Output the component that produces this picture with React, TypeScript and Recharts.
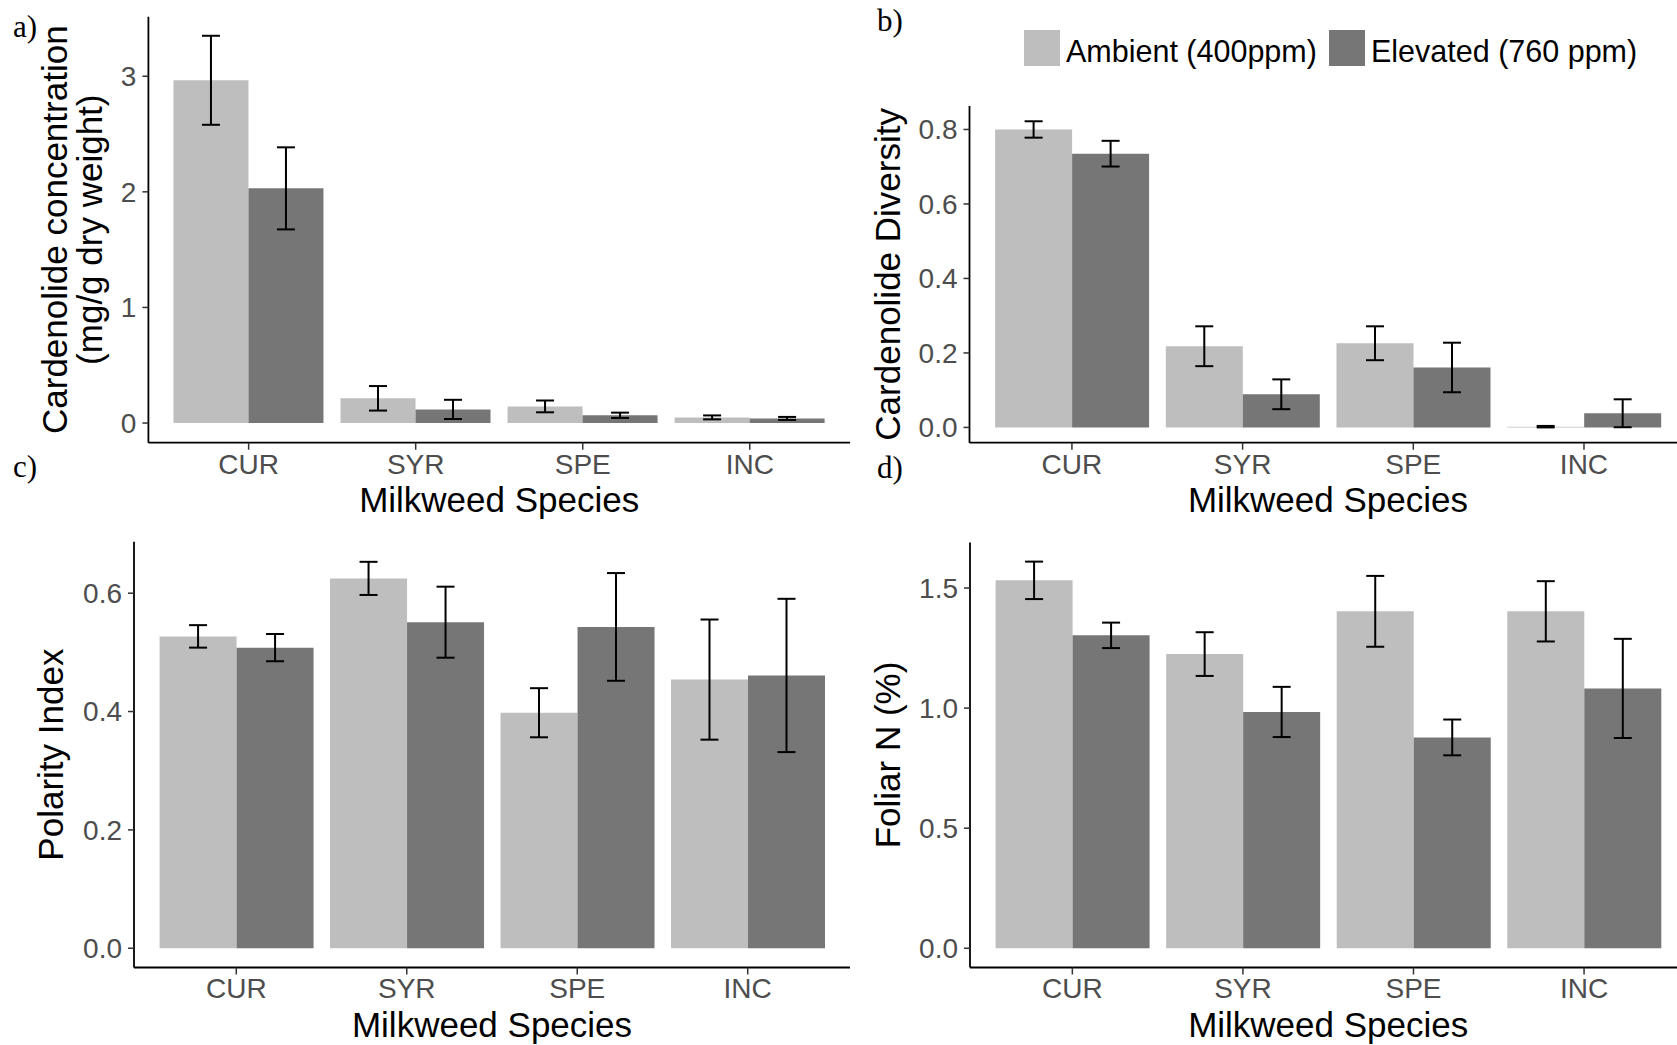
import React from 'react';
import { BarChart, Bar, XAxis, YAxis, ErrorBar } from 'recharts';

const species = ['CUR', 'SYR', 'SPE', 'INC'];
const seriesNames = ['Ambient (400ppm)', 'Elevated (760 ppm)'];

// a) cardenolide concentration (mg/g dry weight)
const concAmbient = [2.965, 0.214, 0.144, 0.049];
const concAmbientSe = [0.385, 0.106, 0.051, 0.017];
const concElevated = [2.03, 0.118, 0.067, 0.04];
const concElevatedSe = [0.355, 0.083, 0.023, 0.013];
const concTicks = [0, 1, 2, 3];

// b) cardenolide diversity
const divAmbient = [0.8, 0.218, 0.226, 0.002];
const divAmbientSe = [0.022, 0.0535, 0.0455, 0.002];
const divElevated = [0.735, 0.089, 0.161, 0.038];
const divElevatedSe = [0.0345, 0.04, 0.0665, 0.0375];
const divTicks = [0, 0.2, 0.4, 0.6, 0.8];

// c) polarity index
const polAmbient = [0.527, 0.625, 0.398, 0.454];
const polAmbientSe = [0.019, 0.028, 0.0415, 0.1015];
const polElevated = [0.508, 0.551, 0.543, 0.461];
const polElevatedSe = [0.023, 0.06, 0.091, 0.1295];
const polTicks = [0, 0.2, 0.4, 0.6];

// d) foliar N (%)
const nAmbient = [1.532, 1.225, 1.403, 1.403];
const nAmbientSe = [0.078, 0.091, 0.1475, 0.1255];
const nElevated = [1.303, 0.984, 0.878, 1.082];
const nElevatedSe = [0.053, 0.1045, 0.0745, 0.2065];
const nTicks = [0, 0.5, 1.0, 1.5];

const COLORS = {
  ambient: '#BEBEBE',
  elevated: '#767676',
  tickText: '#4D4D4D',
};

const buildRows = (amb: number[], ambSe: number[], elev: number[], elevSe: number[]) =>
  species.map((s, i) => ({
    species: s,
    ambient: amb[i],
    ambientSe: ambSe[i],
    elevated: elev[i],
    elevatedSe: elevSe[i],
  }));

interface Box {
  left: number;
  top: number;
  right: number;
  bottom: number;
}

interface PanelProps {
  frame: { left: number; top: number; width: number; height: number };
  plot: Box;
  data: ReturnType<typeof buildRows>;
  domain: [number, number];
  ticks: number[];
  decimals: number;
  yTitle: string[];
  yTitleX: number; // baseline of first title line, relative to frame
}

function Panel({ frame, plot, data, domain, ticks, decimals, yTitle, yTitleX }: PanelProps) {
  const unit = (plot.right - plot.left) / 4.2;
  const yAxisWidth = plot.left - frame.left;
  const xAxisHeight = frame.top + frame.height - plot.bottom;

  const renderYTitle = (props: any) => {
    const vb = props.viewBox;
    const cy = vb.y + vb.height / 2;
    return (
      <g>
        {yTitle.map((line, i) => {
          const x = vb.x + yTitleX + i * 35;
          return (
            <text
              key={i}
              x={x}
              y={cy}
              transform={`rotate(-90, ${x}, ${cy})`}
              textAnchor="middle"
              fontSize={35}
              fill="#000"
            >
              {line}
            </text>
          );
        })}
      </g>
    );
  };

  const renderXTitle = (props: any) => {
    const vb = props.viewBox;
    return (
      <text x={vb.x + vb.width / 2} y={vb.y + 69} textAnchor="middle" fontSize={35} fill="#000">
        Milkweed Species
      </text>
    );
  };

  return (
    <div style={{ position: 'absolute', left: frame.left, top: frame.top }}>
      <BarChart
        width={frame.width}
        height={frame.height}
        data={data}
        margin={{ top: plot.top - frame.top, right: frame.left + frame.width - plot.right, left: 0, bottom: 0 }}
        barCategoryGap="5%"
        barGap={0}
      >
        <XAxis
          dataKey="species"
          interval={0}
          height={xAxisHeight}
          padding={{ left: unit * 0.1, right: unit * 0.1 }}
          axisLine={{ stroke: '#000', strokeWidth: 1.8 }}
          tickLine={{ stroke: '#333', strokeWidth: 1.5 }}
          tickSize={7}
          tickMargin={4}
          tick={{ fill: COLORS.tickText, fontSize: 28 }}
          label={renderXTitle}
        />
        <YAxis
          type="number"
          width={yAxisWidth}
          domain={domain}
          allowDataOverflow
          ticks={ticks}
          interval={0}
          tickFormatter={(v: number) => v.toFixed(decimals)}
          axisLine={{ stroke: '#000', strokeWidth: 1.8 }}
          tickLine={{ stroke: '#333', strokeWidth: 1.5 }}
          tickSize={6}
          tickMargin={6}
          tick={{ fill: COLORS.tickText, fontSize: 28 }}
          label={renderYTitle}
        />
        <Bar dataKey="ambient" name={seriesNames[0]} fill={COLORS.ambient} isAnimationActive={false}>
          <ErrorBar dataKey="ambientSe" width={9} stroke="#000" strokeWidth={2} direction="y" isAnimationActive={false} />
        </Bar>
        <Bar dataKey="elevated" name={seriesNames[1]} fill={COLORS.elevated} isAnimationActive={false}>
          <ErrorBar dataKey="elevatedSe" width={9} stroke="#000" strokeWidth={2} direction="y" isAnimationActive={false} />
        </Bar>
      </BarChart>
    </div>
  );
}

function Overlay() {
  const letters = [
    { t: 'a)', x: 13, y: 37 },
    { t: 'b)', x: 877, y: 31 },
    { t: 'c)', x: 13, y: 477 },
    { t: 'd)', x: 877, y: 478 },
  ];
  const legendItems = [
    { name: seriesNames[0], fill: COLORS.ambient, x: 1024 },
    { name: seriesNames[1], fill: COLORS.elevated, x: 1329 },
  ];
  return (
    <svg
      width={1677}
      height={1045}
      style={{ position: 'absolute', left: 0, top: 0, pointerEvents: 'none' }}
    >
      {letters.map((l) => (
        <text key={l.t} x={l.x} y={l.y} fontFamily="'Liberation Serif', 'Times New Roman', serif" fontSize={31} fill="#000">
          {l.t}
        </text>
      ))}
      {legendItems.map((item) => (
        <g key={item.name}>
          <rect x={item.x} y={30} width={36} height={36} fill={item.fill} />
          <text x={item.x + 42} y={61.5} fontSize={30.5} fill="#000">
            {item.name}
          </text>
        </g>
      ))}
    </svg>
  );
}

export default function App() {
  return (
    <div
      style={{
        position: 'absolute',
        left: 0,
        top: 0,
        width: 1677,
        height: 1045,
        overflow: 'hidden',
        background: '#fff',
        fontFamily: "'Liberation Sans', Arial, Helvetica, sans-serif",
      }}
    >
      <Panel
        frame={{ left: 0, top: 0, width: 860, height: 525 }}
        plot={{ left: 148.4, top: 16.7, right: 850, bottom: 442.7 }}
        data={buildRows(concAmbient, concAmbientSe, concElevated, concElevatedSe)}
        domain={[-0.17, 3.515]}
        ticks={concTicks}
        decimals={0}
        yTitle={['Cardenolide concentration', '(mg/g dry weight)']}
        yTitleX={67.5}
      />
      <Panel
        frame={{ left: 860, top: 0, width: 830, height: 525 }}
        plot={{ left: 969.5, top: 106, right: 1686.4, bottom: 442.7 }}
        data={buildRows(divAmbient, divAmbientSe, divElevated, divElevatedSe)}
        domain={[-0.041, 0.863]}
        ticks={divTicks}
        decimals={1}
        yTitle={['Cardenolide Diversity']}
        yTitleX={40.5}
      />
      <Panel
        frame={{ left: 0, top: 500, width: 860, height: 550 }}
        plot={{ left: 134, top: 541.7, right: 850, bottom: 967.5 }}
        data={buildRows(polAmbient, polAmbientSe, polElevated, polElevatedSe)}
        domain={[-0.0325, 0.687]}
        ticks={polTicks}
        decimals={1}
        yTitle={['Polarity Index']}
        yTitleX={63}
      />
      <Panel
        frame={{ left: 860, top: 500, width: 830, height: 550 }}
        plot={{ left: 970, top: 542.4, right: 1686.4, bottom: 967.5 }}
        data={buildRows(nAmbient, nAmbientSe, nElevated, nElevatedSe)}
        domain={[-0.08, 1.69]}
        ticks={nTicks}
        decimals={1}
        yTitle={['Foliar N (%)']}
        yTitleX={40.5}
      />
      <Overlay />
    </div>
  );
}
